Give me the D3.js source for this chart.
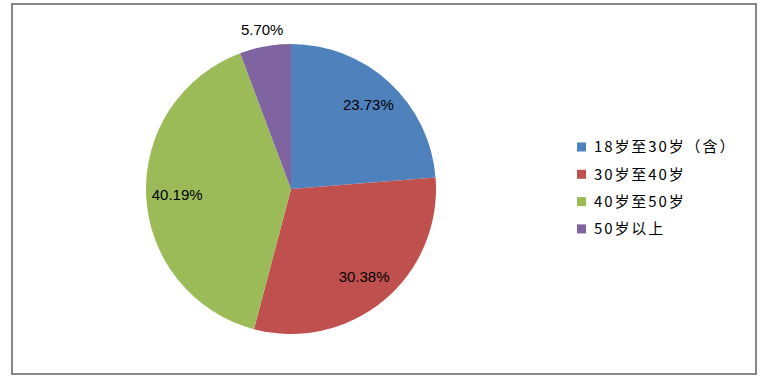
<!DOCTYPE html>
<html>
<head>
  <meta charset='utf-8'>
  <title>年龄分布</title>
  <script src="https://cdn.jsdelivr.net/npm/d3@7"></script>
  <style>
    body { margin: 0; background: #fff; }
  </style>
</head>
<body>
  <svg width=765 height=385></svg>
<script>

  const categories = ['18岁至30岁（含）', '30岁至40岁', '40岁至50岁', '50岁以上'];
  const values = [23.73, 30.38, 40.19, 5.70];
  const colors = ['#4f81bd', '#c0504d', '#9bbb59', '#8064a2'];

  const svg = d3.select('svg');

  // outer frame
  svg.append('rect')
    .attr('x', 12).attr('y', 4)
    .attr('width', 744).attr('height', 370)
    .attr('fill', 'none')
    .attr('stroke', '#878787')
    .attr('stroke-width', 2);

  const cx = 291, cy = 189, radius = 145;

  let data = categories.map((c, i) => ({ name: c, value: values[i], color: colors[i] }));

  let pie = d3.pie()
    .value(d => d.value)
    .sort(null);

  let arc = d3.arc().innerRadius(0).outerRadius(radius);
  let labelArc = d3.arc().innerRadius(114).outerRadius(114);
  let outerLabelArc = d3.arc().innerRadius(162).outerRadius(162);

  let g = svg.append('g').attr('transform', `translate(${cx},${cy})`);

  let arcs = pie(data);

  g.selectAll('path')
    .data(arcs)
    .enter()
      .append('path')
      .attr('d', arc)
      .attr('fill', d => d.data.color);

  g.selectAll('text')
    .data(arcs)
    .enter()
      .append('text')
      .attr('transform', d => {
        let p = d.data.value < 10 ? outerLabelArc.centroid(d) : labelArc.centroid(d);
        return `translate(${p[0]},${p[1]})`;
      })
      .attr('text-anchor', 'middle')
      .attr('dy', '0.35em')
      .attr('font-family', 'Liberation Sans, Arial, sans-serif')
      .attr('font-size', '15px')
      .attr('fill', '#000')
      .text(d => d.data.value.toFixed(2) + '%');

  // legend
  let legend = svg.append('g').attr('transform', 'translate(577,147)');

  let item = legend.selectAll('g')
    .data(data)
    .enter()
      .append('g')
      .attr('transform', (d, i) => `translate(0,${i * 27.3})`);

  item.append('rect')
    .attr('x', 0).attr('y', -4.5)
    .attr('width', 9).attr('height', 9)
    .attr('fill', d => d.color);

  item.append('text')
    .attr('x', 17)
    .attr('dy', '0.35em')
    .attr('font-family', 'Noto Sans CJK SC, sans-serif')
    .attr('font-size', '15px')
    .attr('letter-spacing', '1.9px')
    .attr('fill', '#000')
    .text(d => d.name);

</script>
</body>
</html>
